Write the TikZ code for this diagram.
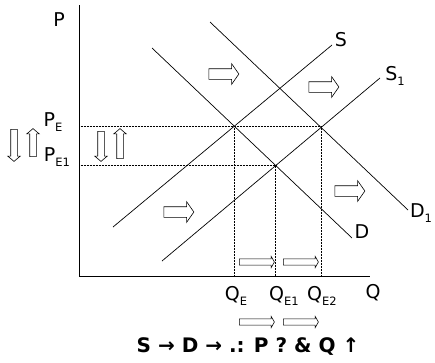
\documentclass[tikz,border=0pt]{standalone}
\usepackage{fontspec}
\setmainfont{DejaVu Sans}
\usetikzlibrary{shapes.arrows,intersections}

\newcommand{\lowlab}[1]{\raisebox{-0.25em}{\fontsize{11.5}{11.5}\selectfont #1}}

\tikzset{
  curve/.style={line width=0.7pt},
  guide/.style={densely dotted, line width=0.5pt},
  lbl/.style={font=\fontsize{19}{19}\selectfont, inner sep=0pt},
  bigshift/.style={single arrow, draw, line width=0.6pt, fill=white, inner xsep=0pt, inner ysep=5pt,
    minimum height=30pt, single arrow head extend=5pt, single arrow tip angle=110},
  smallshift/.style={single arrow, draw, line width=0.6pt, fill=white, inner xsep=0pt, inner ysep=2.8pt,
    minimum height=35pt, single arrow head extend=2.5pt, single arrow tip angle=120},
  vshift/.style={single arrow, draw, line width=0.6pt, fill=white, inner xsep=0pt, inner ysep=3pt,
    minimum height=30pt, single arrow head extend=3pt, single arrow tip angle=100}
}

\begin{document}
\begin{tikzpicture}[x=1pt,y=-1pt]
  \useasboundingbox (0,0) rectangle (435,362);

  % axes
  \coordinate (o) at (79,276);
  \coordinate (ptop) at (79,5);
  \coordinate (qend) at (370,276);
  \draw[line width=1pt] (ptop) -- (o) -- (qend);
  \node[lbl] (P) at (59,20) {P};
  \node[lbl] (Q) at (373,293) {Q};

  % supply and demand
  \draw[curve, name path=S] (113,227) -- (332,45);
  \draw[curve, name path=S1] (162,261) -- (380,78);
  \draw[curve, name path=D] (152,48) -- (352,238);
  \draw[curve, name path=D1] (210,22) -- (408,210);
  \node[lbl] (Slab) at (341,40) {S};
  \node[lbl] (S1lab) at (395,76) {S\lowlab{1}};
  \node[lbl] (Dlab) at (362,232) {D};
  \node[lbl] (D1lab) at (421,213) {D\lowlab{1}};

  \path[name intersections={of=S and D, by=E}];
  \path[name intersections={of=S1 and D, by=E1}];
  \path[name intersections={of=S1 and D1, by=E2}];

  % equilibrium guides
  \draw[guide] (o |- E) -- (E2 |- E);
  \draw[guide] (o |- E1) -- (E1);
  \draw[guide] (E) -- (E |- o);
  \draw[guide] (E1) -- (E1 |- o);
  \draw[guide] (E2 |- E) -- (E2 |- o);

  \node[lbl] (PE) at (53,122) {P\lowlab{E}};
  \node[lbl] (PE1) at (57,157) {P\lowlab{E1}};
  \node[lbl] (QE) at (236,296) {Q\lowlab{E}};
  \node[lbl] (QE1) at (284,296) {Q\lowlab{E1}};
  \node[lbl] (QE2) at (322,296) {Q\lowlab{E2}};

  % shifts
  \node[bigshift] (dshift) at (222,74) {};
  \node[bigshift] (dshift1) at (322,87) {};
  \node[bigshift] (sshift) at (177,212) {};
  \node[bigshift] (dshift2) at (348,191) {};

  \node[smallshift] (qa) at (256,262) {};
  \node[smallshift] (qb) at (300,262) {};
  \node[smallshift] (qc) at (256,322) {};
  \node[smallshift] (qd) at (300,322) {};

  \node[vshift, rotate=-90, minimum height=32pt] (pdown) at (14,144) {};
  \node[vshift, rotate=90, minimum height=28pt] (pup) at (33,144) {};
  \node[vshift, rotate=-90] (pdown1) at (101,145) {};
  \node[vshift, rotate=90] (pup1) at (120,145) {};

  \node[font=\bfseries\fontsize{20}{20}\selectfont] (note) at (248,347) {S → D → .: P ? \& Q ↑};
\end{tikzpicture}
\end{document}
